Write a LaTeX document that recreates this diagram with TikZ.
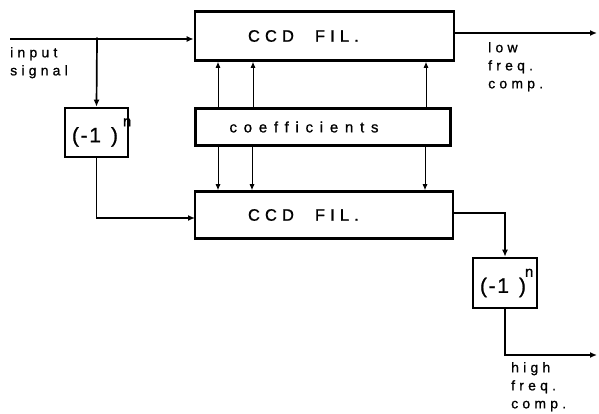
\documentclass[tikz,border=0pt]{standalone}
\usepackage{fontspec}
\setmainfont{Liberation Sans}
\newfontfamily\ccdfont[LetterSpace=31,FakeBold=1]{Liberation Sans}
\newfontfamily\lblfont[LetterSpace=30,FakeBold=1]{Liberation Sans}
\newfontfamily\coeffont[LetterSpace=45,FakeBold=1]{Liberation Sans}
\newfontfamily\negfont[LetterSpace=8,FakeBold=1]{Liberation Sans}
\usetikzlibrary{arrows.meta}
\tikzset{
  blk/.style={draw, line width=2.6pt, inner ysep=0pt, align=left},
  sig/.style={line width=1.7pt, -{Latex[length=7pt,width=6pt]}},
  carrow/.style={line width=0.9pt, -{Latex[length=6pt,width=5pt]}},
  lbl/.style={align=left, anchor=north west, inner sep=0pt, font=\lblfont\fontsize{14}{18}\selectfont},
  ccd/.style={blk, font=\ccdfont\fontsize{16.5}{18}\selectfont, inner xsep=53pt},
  neg/.style={blk, font=\negfont\fontsize{21}{23}\selectfont, inner xsep=7pt, text width=49pt},
}
% #1: distance from "(" to the exponent n
\newcommand{\negone}[1]{\makebox[#1][l]{\makebox[39pt][l]{(-1})}\raisebox{16pt}{\fontsize{15}{15}\selectfont n}}
\newcommand{\ccdtext}{\makebox[67pt][l]{CCD}FIL.}
\begin{document}
\begin{tikzpicture}[x=1pt,y=-1pt]
\useasboundingbox (0,0) rectangle (599,413);
% blocks
\node[ccd, text width=153pt, minimum height=49pt] (top) at (324.5,36) {\ccdtext};
\node[blk, font=\coeffont\fontsize{15}{16}\selectfont, inner xsep=34pt, text width=187pt, minimum height=37pt] (coef) at (323,127) {coefficients};
\node[ccd, text width=152pt, minimum height=47pt] (bot) at (324,215) {\ccdtext};
\node[neg, minimum height=49pt] (negL) at (96.5,132.5) {\negone{51pt}};
\node[neg, minimum height=50pt, text width=50pt] (negR) at (505,283) {\negone{45pt}};
% coordinates
\coordinate (inp) at (10,39);
\coordinate (j1) at (97,39);
\coordinate (lo) at (597,33);
\coordinate (hi) at (597,355);
\coordinate (bin) at (195,218);
\coordinate (bout) at (453,213);
% signal path
\draw[sig] (inp) -- (top.west |- inp);
\fill (j1) circle (1.8pt);
\draw[sig] (j1) -- (negL.north);
\draw[sig] (negL.south) |- (bin);
\draw[sig] (top.east |- lo) -- (lo);
\draw[sig] (bout) -| (negR.north);
\draw[sig] (negR.south) |- (hi);
% coefficient paths
\draw[carrow] (coef.north -| 218,0) -- (top.south -| 218,0);
\draw[carrow] (coef.north -| 253,0) -- (top.south -| 253,0);
\draw[carrow] (coef.north -| 426,0) -- (top.south -| 426,0);
\draw[carrow] (coef.south -| 218,0) -- (bot.north -| 218,0);
\draw[carrow] (coef.south -| 252,0) -- (bot.north -| 252,0);
\draw[carrow] (coef.south -| 425,0) -- (bot.north -| 425,0);
% labels
\node[lbl] (lin) at (10,47) {input\\signal};
\node[lbl] (llo) at (488,42) {low\\freq.\\comp.};
\node[lbl] (lhi) at (511,362) {high\\freq.\\comp.};
\end{tikzpicture}
\end{document}
